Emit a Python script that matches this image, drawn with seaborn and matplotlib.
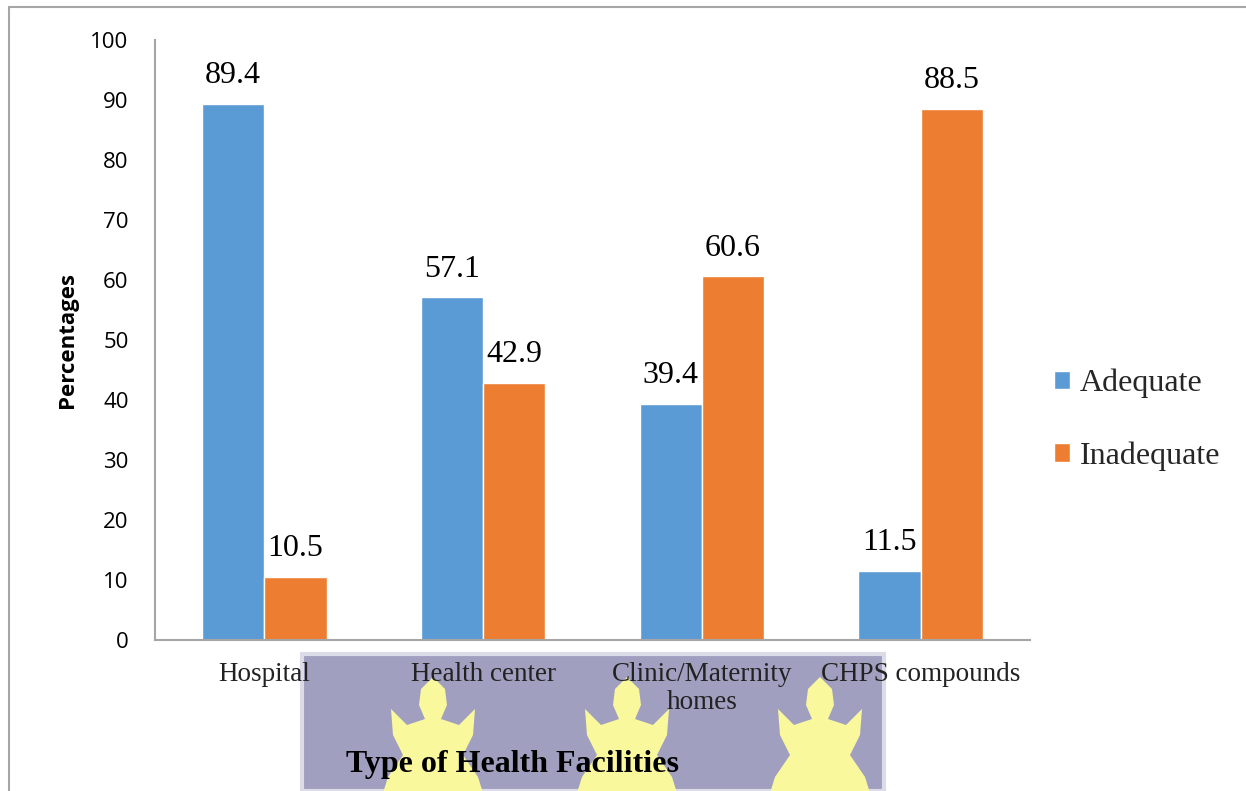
import matplotlib
matplotlib.use("Agg")
import matplotlib.pyplot as plt
import seaborn as sns
import pandas as pd
from matplotlib.patches import Rectangle, Polygon
from matplotlib.lines import Line2D

categories = ["Hospital", "Health center", "Clinic/Maternity\nhomes", "CHPS compounds"]
adequate = [89.4, 57.1, 39.4, 11.5]
inadequate = [10.5, 42.9, 60.6, 88.5]
series = ["Adequate", "Inadequate"]
colors = ["#5B9BD5", "#ED7D31"]

df = pd.DataFrame({
    "Facility": categories * 2,
    "Status": [series[0]] * len(categories) + [series[1]] * len(categories),
    "Value": adequate + inadequate,
})

sns.set_theme(style="white")
plt.rcParams["font.family"] = ["Liberation Serif", "DejaVu Serif"]

W, H = 1246, 791
fig = plt.figure(figsize=(W / 100, H / 100), dpi=100)
fig.patch.set_facecolor("white")

def fx(px):
    return px / W

def fy(py):
    return 1 - py / H

# watermark (background decoration)
fig.patches.append(Rectangle((fx(302), fy(791)), fx(884) - fx(302), fy(654) - fy(791),
                             transform=fig.transFigure, facecolor="#A19FC0",
                             edgecolor="#DCDBE8", linewidth=3, zorder=-3))
shape = [(0, 0), (12, 12), (14, 28), (8, 42), (26, 48), (42, 32), (40, 58), (30, 78),
         (45, 100), (50, 116), (-50, 116), (-45, 100), (-30, 78), (-40, 58), (-42, 32),
         (-26, 48), (-8, 42), (-14, 28), (-12, 12)]
for cx in [433, 627, 820]:
    pts = [(fx(cx + dx), fy(677 + dy)) for dx, dy in shape]
    fig.patches.append(Polygon(pts, closed=True, transform=fig.transFigure,
                               facecolor="#FAF89C", edgecolor="none", zorder=-2))

# outer frame lines (left and top)
fig.lines.append(Line2D([fx(9), fx(9)], [fy(7), 0], transform=fig.transFigure,
                        color="#A6A6A6", lw=1.5))
fig.lines.append(Line2D([fx(9), 1], [fy(7), fy(7)], transform=fig.transFigure,
                        color="#A6A6A6", lw=1.5))

ax = fig.add_axes([fx(155), fy(640), fx(1030) - fx(155), fy(40) - fy(640)])
ax.patch.set_alpha(0)

sns.barplot(data=df, x="Facility", y="Value", hue="Status", palette=colors,
            width=0.57, gap=0, saturation=1, ax=ax, legend=True)

for cont in ax.containers:
    ax.bar_label(cont, fmt="%.1f", padding=10, fontsize=23,
                 family=["Liberation Serif"], color="black")

ax.set_ylim(0, 100)
ax.set_xlim(-0.5, 3.5)
ax.set_yticks(range(0, 101, 10))
ax.set_yticklabels([str(v) for v in range(0, 101, 10)], family=["Open Sans"], fontsize=16,
                   color="black")
ax.tick_params(axis="y", length=0, pad=19)
ax.tick_params(axis="x", length=0, pad=16)
for lab in ax.get_xticklabels():
    lab.set_fontsize(19.5)
    lab.set_color("#222222")
    lab.set_family(["Liberation Serif"])
    lab.set_linespacing(1.15)

ax.set_ylabel("Percentages", family=["Open Sans"], fontsize=16, fontweight="bold",
              color="black", labelpad=9)
ax.set_xlabel("Type of Health Facilities", family=["Liberation Serif"], fontsize=23,
              fontweight="bold", color="black")
ax.xaxis.set_label_coords((513 - 155) / 875, (fy(750) - fy(640)) / (fy(40) - fy(640)))

for s in ["top", "right"]:
    ax.spines[s].set_visible(False)
for s in ["left", "bottom"]:
    ax.spines[s].set_color("#A6A6A6")
    ax.spines[s].set_linewidth(1.5)

leg = ax.legend(loc="center left", bbox_to_anchor=(0.995, 0.367),
                frameon=False, prop={"family": "Liberation Serif", "size": 23},
                handlelength=0.5, handleheight=0.5, handletextpad=0.3, labelspacing=1.35)

fig.savefig("out.png", dpi=100)
